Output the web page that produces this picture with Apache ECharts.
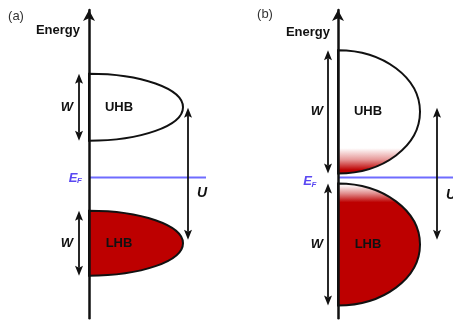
<!DOCTYPE html>
<html><head><meta charset="utf-8">
<script src="https://cdn.jsdelivr.net/npm/echarts@6/dist/echarts.min.js"></script>
<style>html,body{margin:0;padding:0;background:#fff}#c{width:453px;height:323px}</style>
</head><body><div id="c"></div>
<script>
// ---- data (energies in units with E_F = 0, DOS in arbitrary units) ----
const panelLabels = ['(a)', '(b)'];
const axisTitle = 'Energy';
const bandNames = ['UHB', 'LHB'];
const widthLabel = 'W';
const hubbardLabel = 'U';
const fermiLabel = ['E', 'F'];
const fermiLevel = 0;
const bandCentersA = [1.05, -0.98];
const bandWidthsA = [1.0, 0.97];
const bandPeaksA = [0.94, 0.94];
const bandCentersB = [0.98, -1.0];
const bandWidthsB = [1.84, 1.82];
const bandPeaksB = [0.82, 0.82];
const uArrowEnds = [1.04, -0.93];

// ---- layout / style ----
const RED = '#bd0000';
const INK = '#111';
const EF_LINE = '#6f6cff';
const EF_TEXT = '#5a48f2';
const FONT = '"Liberation Sans", Arial, sans-serif';
const layout = [
  {left: 89, wX: -0.10, wLabelX: -0.22, bandLabelX: 0.30, uX: 0.99, uLabelX: 1.13, uLabelY: -0.23,
   efX: -0.16, efY: -0.01, efEnd: 1.17, energyX: -0.09, energyY: 2.2, panelX: -0.73, panelY: 2.41},
  {left: 338, wX: -0.10, wLabelX: -0.21, bandLabelX: 0.30, uX: 0.99, uLabelX: 1.13, uLabelY: -0.26,
   efX: -0.305, efY: -0.06, efEnd: 1.17, energyX: -0.08, energyY: 2.17, panelX: -0.73, panelY: 2.43}
];
const fills = [
  ['#ffffff', RED],
  [
    {type: 'linear', x: 0, y: 0, x2: 0, y2: 1, colorStops: [
      {offset: 0, color: '#ffffff'}, {offset: 0.79, color: '#ffffff'},
      {offset: 0.88, color: '#e79a9a'}, {offset: 0.965, color: RED}, {offset: 1, color: RED}]},
    {type: 'linear', x: 0, y: 0, x2: 0, y2: 1, colorStops: [
      {offset: 0, color: '#ffffff'}, {offset: 0.03, color: '#fbeeee'},
      {offset: 0.09, color: '#e08a8a'}, {offset: 0.16, color: RED}, {offset: 1, color: RED}]}
  ]
];
const bands = [
  bandCentersA.map((c, i) => [c, bandWidthsA[i], bandPeaksA[i]]),
  bandCentersB.map((c, i) => [c, bandWidthsB[i], bandPeaksB[i]])
];

function bandRenderer(p) {
  return function (params, api) {
    const c = api.value(0), w = api.value(1), pk = api.value(2);
    const top = api.coord([0, c + w / 2]), bot = api.coord([0, c - w / 2]), tip = api.coord([pk, c]);
    const x0 = top[0], k = 0.5523, dx = tip[0] - x0;
    const d = 'M' + x0 + ' ' + top[1] +
      ' C' + (x0 + k * dx) + ' ' + top[1] + ' ' + tip[0] + ' ' + (tip[1] - k * (tip[1] - top[1])) + ' ' + tip[0] + ' ' + tip[1] +
      ' C' + tip[0] + ' ' + (tip[1] + k * (bot[1] - tip[1])) + ' ' + (x0 + k * dx) + ' ' + bot[1] + ' ' + x0 + ' ' + bot[1] + ' Z';
    return {type: 'path', shape: {pathData: d}, style: {fill: fills[p][params.dataIndex], stroke: INK, lineWidth: 2}};
  };
}
function arrowRenderer(params, api) {
  const x = api.value(0);
  const a = api.coord([x, api.value(1)]), b = api.coord([x, api.value(2)]);
  const px = a[0], t = Math.min(a[1], b[1]), bt = Math.max(a[1], b[1]);
  const hw = 4, hl = 10;
  return {type: 'group', children: [
    {type: 'line', shape: {x1: px, y1: t + hl - 2, x2: px, y2: bt - hl + 2}, style: {stroke: INK, lineWidth: 1.8}},
    {type: 'polygon', shape: {points: [[px, t], [px - hw, t + hl], [px, t + hl - 2], [px + hw, t + hl]]}, style: {fill: INK}},
    {type: 'polygon', shape: {points: [[px, bt], [px - hw, bt - hl], [px, bt - hl + 2], [px + hw, bt - hl]]}, style: {fill: INK}}
  ]};
}
function fermiRenderer(p) {
  return function (params, api) {
    const a = api.coord([0, api.value(0)]), b = api.coord([layout[p].efEnd, api.value(0)]);
    return {type: 'line', shape: {x1: a[0], y1: a[1], x2: b[0], y2: b[1]}, style: {stroke: EF_LINE, lineWidth: 2.2}};
  };
}
function textItems(p) {
  const L = layout[p], bd = bands[p];
  const items = [
    {pos: [L.panelX, L.panelY], text: panelLabels[p], font: '13px ' + FONT, color: '#333', align: 'center'},
    {pos: [L.energyX, L.energyY], text: axisTitle, font: 'bold 13px ' + FONT, color: INK, align: 'right'},
    {pos: [L.uLabelX, L.uLabelY], text: hubbardLabel, font: 'italic bold 14px ' + FONT, color: INK, align: 'center'},
    {pos: [L.efX, L.efY], text: fermiLabel[0], font: 'italic bold 13px ' + FONT, color: EF_TEXT, align: 'center'},
    {pos: [L.efX, L.efY], text: fermiLabel[1], font: 'italic bold 8px ' + FONT, color: EF_TEXT, align: 'left', dx: 4, dy: 3}
  ];
  bd.forEach((b, i) => {
    items.push({pos: [L.wLabelX, b[0]], text: widthLabel, font: 'italic bold 13px ' + FONT, color: INK, align: 'center'});
    items.push({pos: [L.bandLabelX, b[0]], text: bandNames[i], font: 'bold 13px ' + FONT, color: INK, align: 'center'});
  });
  return items;
}

const grids = [], xAxes = [], yAxes = [], series = [];
[0, 1].forEach(p => {
  grids.push({left: layout[p].left, top: 10, width: 100, height: 4.6 * 67});
  xAxes.push({type: 'value', gridIndex: p, min: 0, max: 1, show: false});
  yAxes.push({type: 'value', gridIndex: p, min: -2.1, max: 2.5, z: 10,
    axisLine: {show: true, onZero: false, symbol: ['none', 'arrow'], symbolSize: [9, 11], lineStyle: {color: INK, width: 2.5}},
    axisTick: {show: false}, axisLabel: {show: false}, splitLine: {show: false}});
  const L = layout[p], bd = bands[p];
  series.push({type: 'custom', xAxisIndex: p, yAxisIndex: p, z: 2, clip: false, silent: true,
    data: bd, renderItem: bandRenderer(p)});
  series.push({type: 'custom', xAxisIndex: p, yAxisIndex: p, z: 3, clip: false, silent: true,
    data: [[fermiLevel]], renderItem: fermiRenderer(p)});
  const arrows = bd.map(b => [L.wX, b[0] + b[1] / 2, b[0] - b[1] / 2]);
  arrows.push([L.uX, uArrowEnds[0], uArrowEnds[1]]);
  series.push({type: 'custom', xAxisIndex: p, yAxisIndex: p, z: 4, clip: false, silent: true,
    data: arrows, renderItem: arrowRenderer});
  const items = textItems(p);
  series.push({type: 'custom', xAxisIndex: p, yAxisIndex: p, z: 5, clip: false, silent: true,
    data: items.map(t => t.pos),
    renderItem: function (params, api) {
      const t = items[params.dataIndex];
      const pt = api.coord([api.value(0), api.value(1)]);
      return {type: 'text', x: pt[0] + (t.dx || 0), y: pt[1] + (t.dy || 0),
        style: {text: t.text, font: t.font, fill: t.color, align: t.align, verticalAlign: 'middle'}};
    }});
});

const chart = echarts.init(document.getElementById('c'), null, {renderer: 'canvas'});
chart.setOption({animation: false, backgroundColor: '#fff', grid: grids, xAxis: xAxes, yAxis: yAxes, series: series});
</script></body></html>
